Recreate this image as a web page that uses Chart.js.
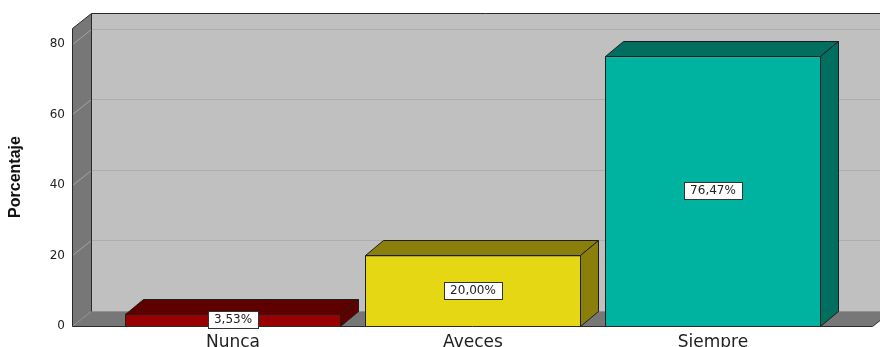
<!DOCTYPE html>
<html>
<head>
<meta charset="utf-8">
<script src="https://cdn.jsdelivr.net/npm/chart.js@4"></script>
<style>
  html, body { margin: 0; padding: 0; background: #fff; overflow: hidden; }
  canvas { display: block; }
</style>
</head>
<body>
<canvas id="chart" width="880" height="356"></canvas>
<script>
// data
const categories = ['Nunca', 'Aveces', 'Siempre'];
const percentages = [3.53, 20.00, 76.47];
const yTicks = [0, 20, 40, 60, 80];
const yMax = 84.5;

// styling
const frontColors = ['#990000', '#e5d714', '#00b3a0'];
const shadeColors = ['#5e0000', '#8a7f0b', '#006f5f'];

Chart.defaults.font.family = "'DejaVu Sans', sans-serif";
Chart.defaults.color = '#222';

function poly(ctx, pts, fill, stroke) {
    ctx.beginPath();
    ctx.moveTo(pts[0][0], pts[0][1]);
    for (let i = 1; i < pts.length; i++) ctx.lineTo(pts[i][0], pts[i][1]);
    ctx.closePath();
    if (fill) { ctx.fillStyle = fill; ctx.fill(); }
    if (stroke) { ctx.strokeStyle = stroke; ctx.lineWidth = 1; ctx.stroke(); }
}

function line(ctx, x1, y1, x2, y2, color) {
    ctx.beginPath();
    ctx.moveTo(x1, y1);
    ctx.lineTo(x2, y2);
    ctx.strokeStyle = color;
    ctx.lineWidth = 1;
    ctx.stroke();
}

// walls, floor and gridlines of the 3D box
const boxPlugin = {
    id: 'box3d',
    beforeDatasetsDraw(chart) {
        const { ctx, chartArea: a, scales: { y } } = chart;
        const dx = 19, dy = 15;
        const x0 = a.left - 40.5, x1 = a.right + 39.5;
        const top = Math.round(a.top) + 0.5, bot = Math.round(a.bottom) + 0.5;
        ctx.save();
        // back wall
        ctx.fillStyle = '#c0c0c0';
        ctx.fillRect(x0 + dx, top - dy, chart.width, bot - top);
        yTicks.forEach(v => {
            const py = Math.round(y.getPixelForValue(v)) + 0.5;
            line(ctx, x0 + dx, py - dy, chart.width, py - dy, '#adadad');
        });
        // left wall
        poly(ctx, [[x0, top], [x0 + dx, top - dy], [x0 + dx, bot - dy], [x0, bot]], '#777777');
        yTicks.forEach(v => {
            const py = Math.round(y.getPixelForValue(v)) + 0.5;
            line(ctx, x0, py, x0 + dx, py - dy, '#a4a4a4');
        });
        // floor
        poly(ctx, [[x0, bot], [x0 + dx, bot - dy], [x1 + dx, bot - dy], [x1, bot]], '#777777');
        // edges
        line(ctx, x0, top, x0, bot, '#2a2a2a');
        line(ctx, x0, top, x0 + dx, top - dy, '#2a2a2a');
        line(ctx, x0 + dx, top - dy, chart.width, top - dy, '#2a2a2a');
        line(ctx, x0 + dx, top - dy, x0 + dx, bot - dy, '#2a2a2a');
        line(ctx, x0, bot, x1, bot, '#2a2a2a');
        line(ctx, x1, bot, x1 + dx, bot - dy, '#2a2a2a');
        ctx.restore();
    },
    afterDatasetsDraw(chart) {
        const { ctx } = chart;
        const dx = 18, dy = 15;
        const meta = chart.getDatasetMeta(0);
        ctx.save();
        meta.data.forEach((bar, i) => {
            const p = bar.getProps(['x', 'y', 'base', 'width'], true);
            const l = Math.round(p.x - p.width / 2) + 0.5;
            const r = Math.round(p.x + p.width / 2) - 0.5;
            const t = Math.round(p.y) + 0.5;
            const b = Math.round(p.base) + 0.5;
            poly(ctx, [[l, t], [l + dx, t - dy], [r + dx, t - dy], [r, t]], shadeColors[i], '#1e1e1e');
            poly(ctx, [[r, t], [r + dx, t - dy], [r + dx, b - dy], [r, b]], shadeColors[i], '#1e1e1e');
        });
        // value labels
        ctx.font = "12px 'DejaVu Sans', sans-serif";
        ctx.textAlign = 'center';
        ctx.textBaseline = 'middle';
        meta.data.forEach((bar, i) => {
            const p = bar.getProps(['x', 'y', 'base'], true);
            const txt = percentages[i].toFixed(2).replace('.', ',') + '%';
            const w = Math.round(ctx.measureText(txt).width + 12);
            const h = 17;
            const cx = Math.round(p.x);
            const cy = Math.round((p.y + p.base) / 2);
            const bx = cx - Math.round(w / 2) + 0.5, by = cy - 9 + 0.5;
            ctx.fillStyle = '#ffffff';
            ctx.fillRect(bx, by, w, h);
            ctx.strokeStyle = '#333';
            ctx.lineWidth = 1;
            ctx.strokeRect(bx, by, w, h);
            ctx.fillStyle = '#222';
            ctx.fillText(txt, cx, cy);
        });
        ctx.restore();
    }
};

const ctx = document.getElementById('chart').getContext('2d');
new Chart(ctx, {
    type: 'bar',
    data: {
        labels: categories,
        datasets: [{
            data: percentages,
            backgroundColor: frontColors,
            borderColor: '#1e1e1e',
            borderWidth: 1,
            barPercentage: 0.9,
            categoryPercentage: 1
        }]
    },
    options: {
        responsive: false,
        animation: false,
        devicePixelRatio: 1,
        layout: { padding: { left: 2, right: 47, top: 28, bottom: 0 } },
        plugins: {
            legend: { display: false },
            tooltip: { enabled: false }
        },
        scales: {
            x: {
                grid: { display: false, drawTicks: false },
                border: { display: false },
                ticks: { padding: 6, color: '#222', font: { size: 17 } },
                afterFit(s) { s.height = 30; s.paddingLeft = 0; s.paddingRight = 0; }
            },
            y: {
                min: 0,
                max: yMax,
                grid: { display: false, drawTicks: false },
                border: { display: false },
                afterBuildTicks(s) { s.ticks = yTicks.map(v => ({ value: v })); },
                ticks: { padding: 48, color: '#222', font: { size: 12 } },
                title: {
                    display: true,
                    text: 'Porcentaje',
                    color: '#111',
                    padding: { top: 4, bottom: 0 },
                    font: { family: "'Liberation Sans', Arial, sans-serif", size: 16, weight: 'bold' }
                },
                afterFit(s) { s.width = 111; s.paddingTop = 0; s.paddingBottom = 0; }
            }
        }
    },
    plugins: [boxPlugin]
});
</script>
</body>
</html>
